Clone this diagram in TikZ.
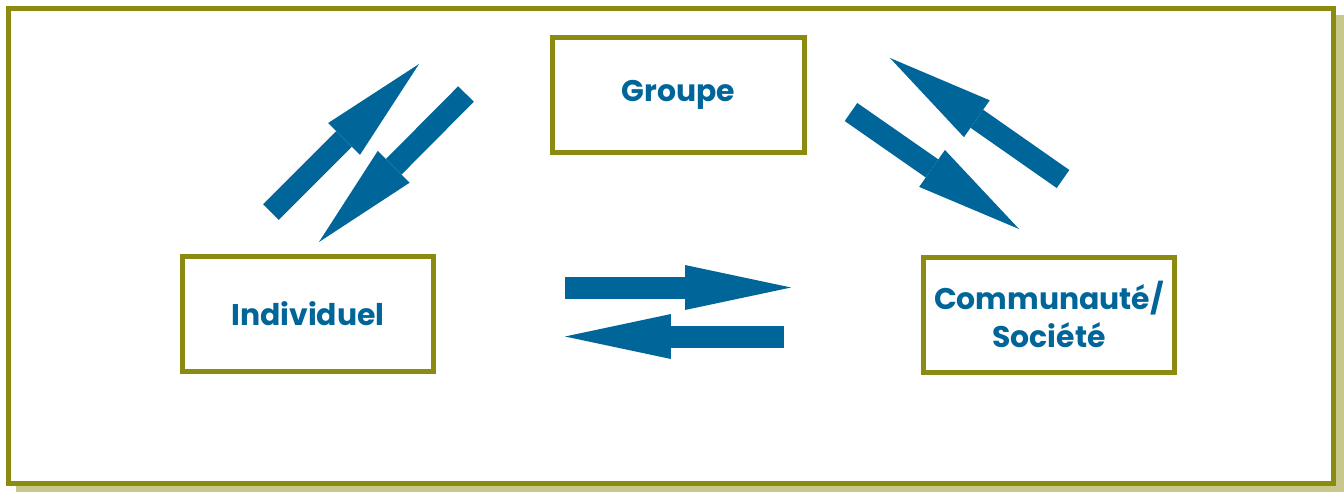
\documentclass[tikz,border=0pt]{standalone}
\usepackage{fontspec}
\setmainfont{Poppins}
\usetikzlibrary{arrows.meta,positioning}
\definecolor{olivebox}{RGB}{139,139,18}
\definecolor{oliveshadow}{RGB}{200,200,140}
\definecolor{arrowblue}{RGB}{0,102,153}

\begin{document}
\begin{tikzpicture}[x=0.02cm,y=-0.02cm,
    box/.style={draw=olivebox, line width=0.1cm, fill=white, minimum width=5.04cm, minimum height=2.3cm,
      align=center, text=arrowblue, font=\bfseries\fontsize{17}{22}\selectfont},
    bigarrow/.style={draw=arrowblue, line width=0.44cm,
      -{Triangle[length=2.12cm, width=0.9cm, line width'=0pt]}}]
      \useasboundingbox (0,0) rectangle (1344,491);

      % Frame with shadow
      \fill[oliveshadow] (16,15) rectangle (1345,492);
      \draw[olivebox, line width=0.1cm, fill=white] (8.5,8.5) rectangle (1333.5,483.5);

      % Nodes
      \node[box] (groupe) at (678.5,95) {Groupe};
      \node[box] (indiv) at (308,314) {Individuel};
      \node[box] (commu) at (1049,314.5) {Communauté/\\Société};

      % Points
      \coordinate (i1) at (271,212);
      \coordinate (g1) at (419,64);
      \coordinate (g2) at (466,94);
      \coordinate (i2) at (319,242);
      \coordinate (g3) at (851,112);
      \coordinate (c3) at (1019,229);
      \coordinate (c4) at (1063,179);
      \coordinate (g4) at (890,58);
      \coordinate (i5) at (565,287.5);
      \coordinate (c5) at (791,287.5);
      \coordinate (c6) at (784,336.5);
      \coordinate (i6) at (565,336.5);

      % Arrows
      \foreach \from/\to in {i1/g1, g2/i2, g3/c3, c4/g4, i5/c5, c6/i6} {
        \draw[bigarrow] (\from) -- (\to);
      }
    \end{tikzpicture}
\end{document}
